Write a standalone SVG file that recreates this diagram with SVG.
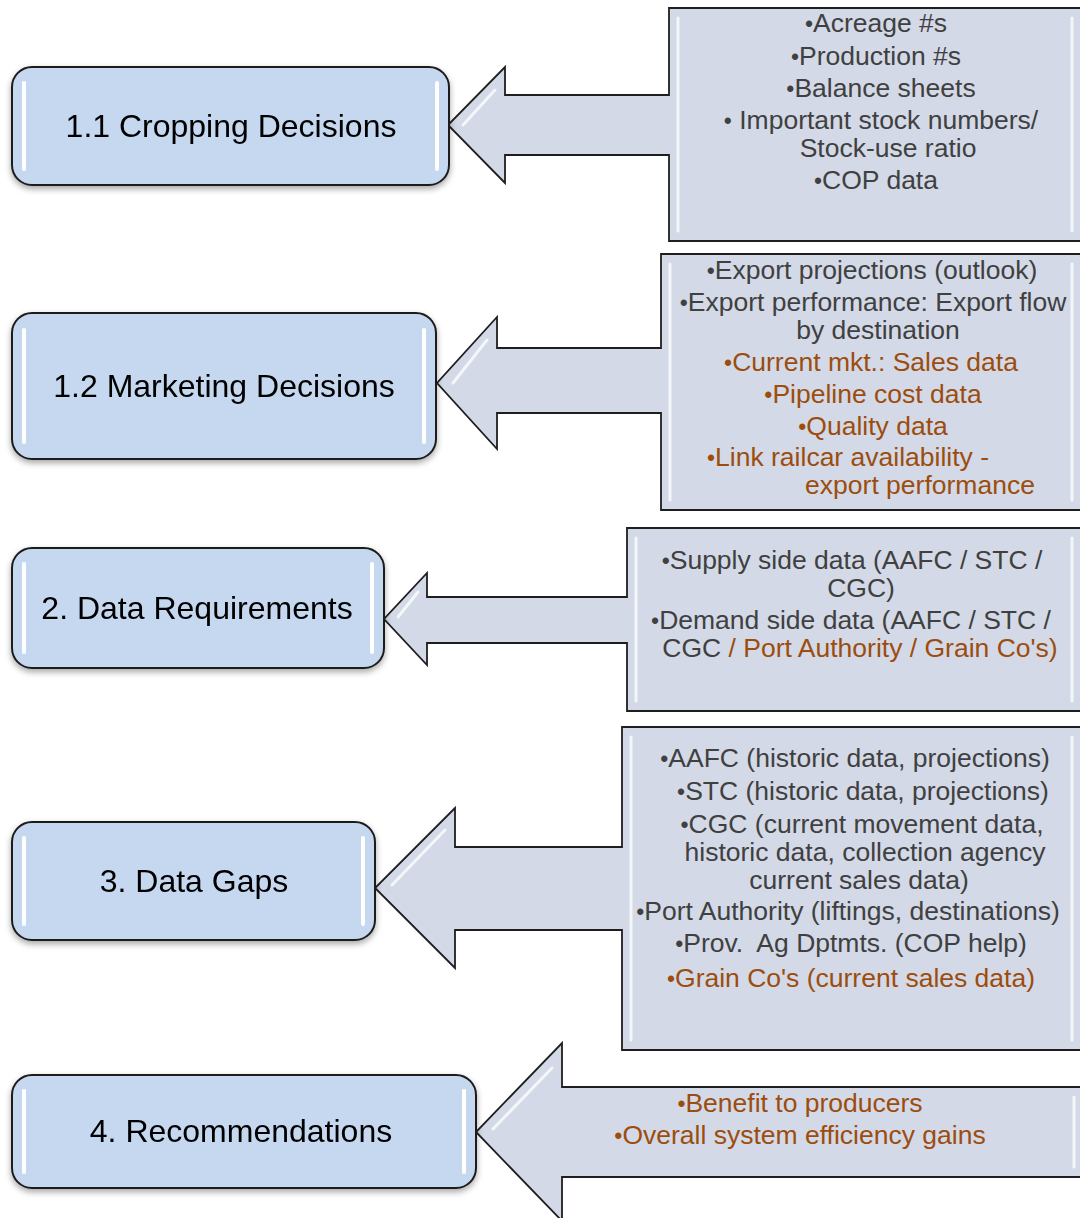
<svg xmlns="http://www.w3.org/2000/svg" width="1080" height="1218" viewBox="0 0 1080 1218">
<style>
.co{fill:#d3d9e7;stroke:#1e1e1e;stroke-width:1.8;stroke-linejoin:miter}
.bev{fill:none;stroke:#ffffff;stroke-opacity:0.75;stroke-width:3;stroke-linecap:round}
.box{fill:#c5d8ef;stroke:#1e1e1e;stroke-width:2}
.hl{stroke:#ffffff;stroke-width:4;stroke-linecap:round}
.lbl{font-family:"Liberation Sans",Arial,sans-serif;font-size:32px;fill:#000;text-anchor:middle}
.t{font-family:"Liberation Sans",Arial,sans-serif;font-size:26.5px;fill:#404040;text-anchor:middle}
.o{fill:#9c4d0e}
.b{font-size:23px}
</style>
<defs>
<filter id="sh" x="-10%" y="-20%" width="120%" height="150%">
<feDropShadow dx="0" dy="3" stdDeviation="3" flood-color="#000" flood-opacity="0.35"/>
</filter>
</defs>
<rect width="1080" height="1218" fill="#ffffff"/>
<g id="connectors">
<g id="callout1">
<path class="co" d="M1084 8 L669 8 L669 95 L505 95 L505 67 L448 125 L505 183 L505 155 L669 155 L669 241 L1084 241 Z"/>
<path class="bev" d="M678 18 L678 231 M1072 18 L1072 231 M495 90 L463 125"/>
<text class="t" x="876" y="32"><tspan class="b">•</tspan>Acreage #s</text>
<text class="t" x="876" y="65"><tspan class="b">•</tspan>Production #s</text>
<text class="t" x="881" y="97"><tspan class="b">•</tspan>Balance sheets</text>
<text class="t" x="881" y="129"><tspan class="b">•</tspan> Important stock numbers/</text>
<text class="t" x="888" y="157">Stock-use ratio</text>
<text class="t" x="876" y="189"><tspan class="b">•</tspan>COP data</text>
</g>
<g id="callout2">
<path class="co" d="M1084 254 L661 254 L661 348 L497 348 L497 317 L437 383 L497 449 L497 413 L661 413 L661 510 L1084 510 Z"/>
<path class="bev" d="M670 264 L670 500 M1072 264 L1072 500 M487 340 L453 383"/>
<text class="t" x="872" y="279"><tspan class="b">•</tspan>Export projections (outlook)</text>
<text class="t" x="873" y="311"><tspan class="b">•</tspan>Export performance: Export flow</text>
<text class="t" x="878" y="339">by destination</text>
<text class="t o" x="871" y="371"><tspan class="b">•</tspan>Current mkt.: Sales data</text>
<text class="t o" x="873" y="403"><tspan class="b">•</tspan>Pipeline cost data</text>
<text class="t o" x="873" y="435"><tspan class="b">•</tspan>Quality data</text>
<text class="t o" x="848" y="466"><tspan class="b">•</tspan>Link railcar availability -</text>
<text class="t o" x="920" y="494">export performance</text>
</g>
<g id="callout3">
<path class="co" d="M1084 528 L627 528 L627 597 L427 597 L427 573 L384 619 L427 665 L427 643 L627 643 L627 711 L1084 711 Z"/>
<path class="bev" d="M636 538 L636 701 M1072 538 L1072 701 M418 592 L398 617"/>
<text class="t" x="852" y="569"><tspan class="b">•</tspan>Supply side data (AAFC / STC /</text>
<text class="t" x="861" y="597">CGC)</text>
<text class="t" x="851" y="629"><tspan class="b">•</tspan>Demand side data (AAFC / STC /</text>
<text class="t" x="860" y="657">CGC<tspan class="o"> / Port Authority / Grain Co's)</tspan></text>
</g>
<g id="callout4">
<path class="co" d="M1084 727 L622 727 L622 847 L455 847 L455 808 L375 888 L455 968 L455 930 L622 930 L622 1050 L1084 1050 Z"/>
<path class="bev" d="M631 737 L631 1040 M1072 737 L1072 1040 M445 830 L392 885"/>
<text class="t" x="855" y="767"><tspan class="b">•</tspan>AAFC (historic data, projections)</text>
<text class="t" x="863" y="800"><tspan class="b">•</tspan>STC (historic data, projections)</text>
<text class="t" x="862" y="833"><tspan class="b">•</tspan>CGC (current movement data,</text>
<text class="t" x="865" y="861">historic data, collection agency</text>
<text class="t" x="859" y="889">current sales data)</text>
<text class="t" x="848" y="920"><tspan class="b">•</tspan>Port Authority (liftings, destinations)</text>
<text class="t" x="851" y="952" xml:space="preserve"><tspan class="b">•</tspan>Prov.  Ag Dptmts. (COP help)</text>
<text class="t o" x="851" y="987"><tspan class="b">•</tspan>Grain Co's (current sales data)</text>
</g>
<g id="callout5">
<path class="co" d="M1084 1087 L562 1087 L562 1043 L476 1132 L562 1221 L562 1177 L1084 1177 Z"/>
<path class="bev" d="M1074 1097 L1074 1167 M552 1068 L493 1129"/>
<text class="t o" x="800" y="1112"><tspan class="b">•</tspan>Benefit to producers</text>
<text class="t o" x="800" y="1144"><tspan class="b">•</tspan>Overall system efficiency gains</text>
</g>
</g>
<g id="node1" filter="url(#sh)">
<rect class="box" x="12" y="67" width="437" height="118" rx="20"/>
<line class="hl" x1="24" y1="83" x2="24" y2="169"/><line class="hl" x1="437" y1="83" x2="437" y2="169"/>
<text class="lbl" x="231" y="137">1.1 Cropping Decisions</text>
</g>
<g id="node2" filter="url(#sh)">
<rect class="box" x="12" y="313" width="424" height="146" rx="20"/>
<line class="hl" x1="24" y1="330" x2="24" y2="442"/><line class="hl" x1="424" y1="330" x2="424" y2="442"/>
<text class="lbl" x="224" y="397">1.2 Marketing Decisions</text>
</g>
<g id="node3" filter="url(#sh)">
<rect class="box" x="12" y="548" width="372" height="120" rx="20"/>
<line class="hl" x1="24" y1="564" x2="24" y2="652"/><line class="hl" x1="372" y1="564" x2="372" y2="652"/>
<text class="lbl" x="197" y="619">2. Data Requirements</text>
</g>
<g id="node4" filter="url(#sh)">
<rect class="box" x="12" y="822" width="363" height="118" rx="20"/>
<line class="hl" x1="24" y1="838" x2="24" y2="924"/><line class="hl" x1="363" y1="838" x2="363" y2="924"/>
<text class="lbl" x="194" y="892">3. Data Gaps</text>
</g>
<g id="node5" filter="url(#sh)">
<rect class="box" x="12" y="1075" width="464" height="113" rx="20"/>
<line class="hl" x1="24" y1="1091" x2="24" y2="1172"/><line class="hl" x1="464" y1="1091" x2="464" y2="1172"/>
<text class="lbl" x="241" y="1142">4. Recommendations</text>
</g>
</svg>
